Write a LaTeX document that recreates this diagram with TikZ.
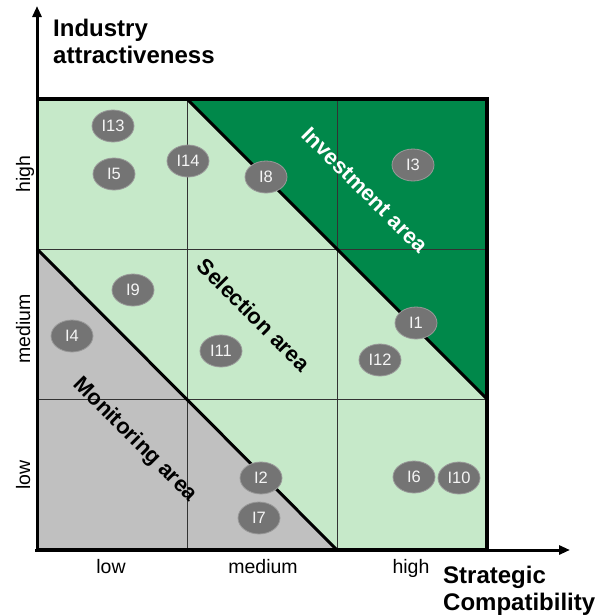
\documentclass[tikz,border=0pt]{standalone}
\usepackage{fontspec}
\setmainfont{Liberation Sans}
\usetikzlibrary{arrows.meta,shapes.geometric}
\definecolor{dgreen}{HTML}{00884A}
\definecolor{lgreen}{HTML}{C6E9C9}
\definecolor{mgray}{HTML}{C0C0C0}
\definecolor{egray}{HTML}{747474}
\definecolor{eline}{HTML}{999999}
\begin{document}
\begin{tikzpicture}[x=1pt,y=-1pt,
 item/.style={ellipse,fill=egray,draw=eline,line width=0.8pt,minimum width=42pt,minimum height=32pt,inner sep=0pt,text=white!92!gray,font=\fontsize{16.5}{16.5}\selectfont},
 tick/.style={font=\fontsize{19.5}{19.5}\selectfont,inner sep=0pt,anchor=base},
 area/.style={font=\bfseries\fontsize{22}{22}\selectfont,rotate=-45,inner sep=0pt},
 ttl/.style={font=\bfseries\fontsize{24}{27}\selectfont,align=left,inner sep=0pt,anchor=north west},
 gridline/.style={draw=black!80,line width=1pt},
 diag/.style={line width=3pt,draw=black},
 axis/.style={line width=3pt,-{Triangle[length=11pt,width=9pt]}}]
\useasboundingbox (0,0) rectangle (603,616);
\coordinate (O) at (37,550);
\coordinate (TL) at (37,99);
\coordinate (TR) at (487,99);
\coordinate (BR) at (487,550);
\coordinate (ytip) at (37,6);
\coordinate (xtip) at (570,550);
\coordinate (ystart) at (37,552);
\coordinate (xstart) at (35,550);
% areas
\fill[lgreen] (O) rectangle (TR);
\fill[dgreen] (187,99) -- (TR) -- (487,399) -- cycle;
\fill[mgray] (37,249) -- (O) -- (337,550) -- cycle;
% grid
\draw[gridline] (187,99) -- (187,550);
\draw[gridline] (337,99) -- (337,550);
\draw[gridline] (37,249) -- (487,249);
\draw[gridline] (37,399) -- (487,399);
% diagonals
\draw[diag] (187,99) -- (487,399);
\draw[diag] (37,249) -- (337,550);
% border
\draw[line width=3.5pt] (TL) -- (TR) -- (BR) -- (O);
% axes
\draw[axis] (ystart) -- (ytip);
\draw[axis] (xstart) -- (xtip);
% titles
\node[ttl] (ytitle) at (53,19) {Industry\\attractiveness};
\node[ttl] (xtitle) at (443,566) {Strategic\\Compatibility};
% ticks
\node[tick] (xl) at (111,573) {low};
\node[tick] (xm) at (263,573) {medium};
\node[tick] (xh) at (411,573) {high};
\node[tick,rotate=90] (yh) at (30,174) {high};
\node[tick,rotate=90] (ym) at (30,329) {medium};
\node[tick,rotate=90] (yl) at (30,475) {low};
% area labels
\node[area,text=white] (inv) at (365,190) {Investment area};
\node[area] (sel) at (254,315) {Selection area};
\node[area] (mon) at (135,440) {Monitoring area};
% items
\node[item] (i13) at (113,126) {I13};
\node[item] (i5) at (114,174) {I5};
\node[item] (i14) at (188,161) {I14};
\node[item] (i8) at (266,177) {I8};
\node[item] (i3) at (413,165) {I3};
\node[item] (i9) at (133,290) {I9};
\node[item] (i4) at (72,336) {I4};
\node[item] (i11) at (221,351) {I11};
\node[item] (i1) at (416,323) {I1};
\node[item] (i12) at (380,360) {I12};
\node[item] (i2) at (261,478) {I2};
\node[item] (i7) at (259,518) {I7};
\node[item] (i6) at (414,477) {I6};
\node[item] (i10) at (459,478) {I10};
\end{tikzpicture}
\end{document}
